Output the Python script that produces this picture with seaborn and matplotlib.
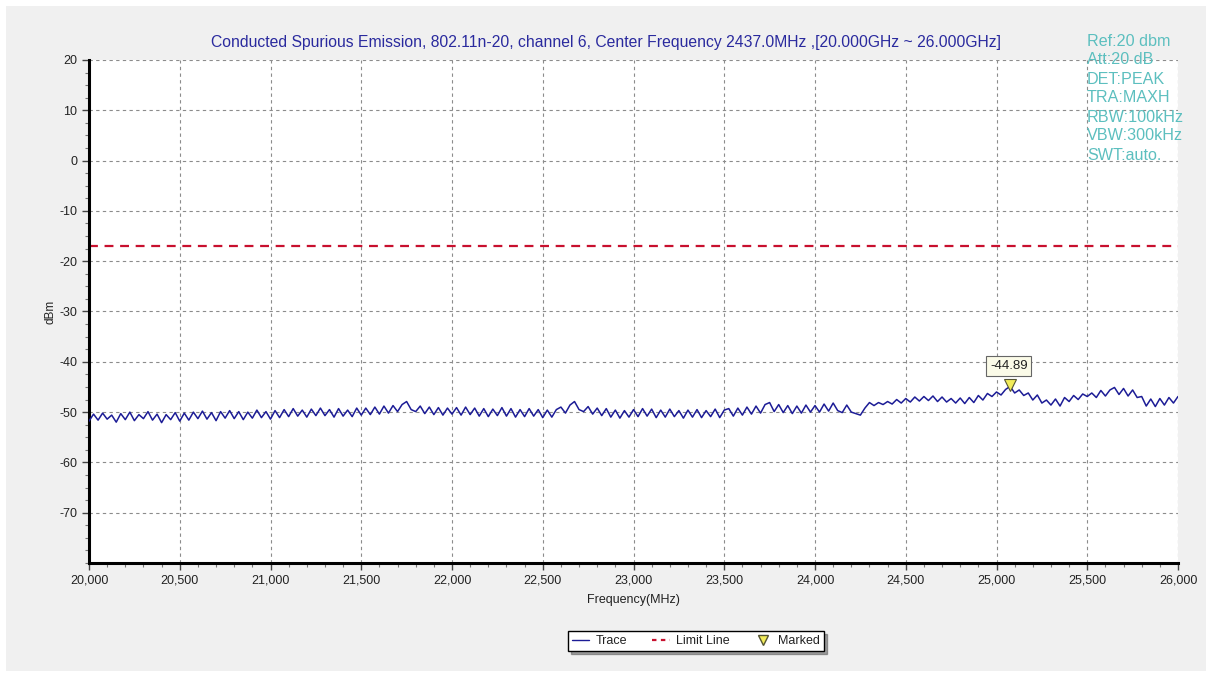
import matplotlib
matplotlib.use("Agg")
import matplotlib.pyplot as plt
import matplotlib.ticker as mticker
import matplotlib.transforms as mtransforms
from matplotlib.lines import Line2D
from matplotlib.patches import Rectangle
import numpy as np
import pandas as pd
import seaborn as sns

# ---- measurement data ----
f_start = 20000.0
f_stop = 26000.0
f_step = 25.0

trace_dbm = [
    # 20000 - 20500
    -51.8, -50.4, -51.6, -50.2, -51.4, -50.6, -52.0, -50.3, -51.5, -50.0, -51.7,
    -50.5, -51.3, -49.9, -51.6, -50.4, -52.1, -50.5, -51.5, -50.1, -51.8,
    # 20525 - 21000
    -50.2, -51.6, -50.0, -51.3, -49.8, -51.4, -50.1, -51.7, -49.9, -51.2,
    -49.7, -51.3, -49.9, -51.5, -50.0, -51.2, -49.6, -51.1, -49.9, -51.4,
    # 21025 - 21500
    -49.7, -51.1, -49.5, -50.9, -49.3, -50.8, -49.6, -51.0, -49.4, -50.7,
    -49.2, -50.7, -49.5, -51.0, -49.3, -50.8, -49.6, -50.9, -49.2, -50.6,
    # 21525 - 22000
    -49.2, -50.5, -49.0, -50.4, -48.8, -50.2, -48.7, -49.9, -48.5, -47.9,
    -49.5, -49.9, -48.8, -50.3, -49.0, -50.5, -49.1, -50.6, -49.2, -50.4,
    # 22025 - 22500
    -49.1, -50.6, -49.0, -50.5, -49.2, -50.8, -49.3, -50.9, -49.4, -50.7,
    -49.1, -50.8, -49.3, -51.0, -49.5, -50.9, -49.3, -50.8, -49.5, -51.1,
    # 22525 - 23000
    -49.6, -51.0, -49.5, -49.0, -50.2, -48.6, -47.9, -49.5, -49.9, -48.9,
    -50.4, -49.2, -50.7, -49.3, -51.0, -49.6, -51.2, -49.7, -51.0, -49.5,
    # 23025 - 23500
    -50.9, -49.3, -50.8, -49.4, -51.1, -49.6, -51.0, -49.4, -50.9, -49.7,
    -51.2, -49.6, -51.0, -49.5, -51.1, -49.7, -50.9, -49.4, -51.1, -49.6,
    # 23525 - 24000
    -49.3, -50.8, -49.2, -50.6, -49.0, -50.4, -48.8, -50.2, -48.5, -48.1,
    -49.9, -48.5, -50.1, -48.7, -50.3, -48.8, -50.2, -48.6, -50.0, -48.7,
    # 24025 - 24500
    -50.0, -48.4, -49.8, -48.2, -49.7, -50.1, -48.6, -50.0, -50.3, -50.6,
    -49.2, -48.1, -48.7, -48.1, -48.5, -47.9, -48.4, -47.5, -48.2, -47.3,
    # 24525 - 25000
    -48.0, -47.0, -47.8, -46.9, -47.7, -46.8, -47.9, -47.0, -48.0, -47.3,
    -48.2, -47.2, -48.3, -47.1, -48.1, -46.7, -47.6, -46.3, -46.9, -46.0,
    # 25025 - 25500
    -46.6, -45.5, -44.89, -46.2, -45.6, -46.7, -46.2, -47.6, -46.6, -48.2,
    -47.6, -48.6, -47.4, -48.8, -47.1, -47.9, -46.7, -47.5, -46.4, -46.9,
    # 25525 - 26000
    -46.2, -47.1, -45.7, -46.8, -45.6, -45.1, -46.5, -45.3, -46.8, -45.6,
    -47.1, -46.9, -48.8, -47.4, -48.9, -47.3, -48.6, -47.1, -48.2, -46.9,
]

limit_dbm = -17.0
marker_freq = 25075.0
marker_dbm = -44.89

title = ("Conducted Spurious Emission, 802.11n-20, channel 6, Center Frequency "
         "2437.0MHz ,[20.000GHz ~ 26.000GHz]")
settings = ["Ref:20 dbm", "Att:20 dB", "DET:PEAK", "TRA:MAXH",
            "RBW:100kHz", "VBW:300kHz", "SWT:auto."]
legend_labels = ["Trace", "Limit Line", "Marked"]

freq_mhz = f_start + f_step * np.arange(len(trace_dbm))
df = pd.DataFrame({"Frequency(MHz)": freq_mhz, "dBm": trace_dbm})

# ---- styling ----
sns.set_style("white")
plt.rcParams["font.family"] = ["Liberation Sans", "DejaVu Sans"]

trace_color = "#1c1c96"
limit_color = "#c8102e"
marker_face = "#f2ec5a"
info_color = "#5cbfbf"
panel_color = "#f0f0f0"

fig = plt.figure(figsize=(12.12, 6.77), dpi=100, facecolor="white")
fig.patches.append(Rectangle((6 / 1212, 6 / 677), 1200 / 1212, 665 / 677,
                             transform=fig.transFigure, facecolor=panel_color,
                             edgecolor="none", zorder=-10))

ax = fig.add_axes([89 / 1212, (677 - 563) / 677, 1089 / 1212, 503 / 677])
ax.set_facecolor("white")

sns.lineplot(data=df, x="Frequency(MHz)", y="dBm", ax=ax, color=trace_color,
             linewidth=1.1, estimator=None, zorder=3)
ax.axhline(limit_dbm, color=limit_color, linewidth=1.6,
           linestyle=(0, (4, 3)), zorder=2)

# marker triangle sitting on the peak
mk_trans = mtransforms.offset_copy(ax.transData, fig=fig, y=1, units="points")
ax.plot([marker_freq], [marker_dbm], marker="v", markersize=9,
        markerfacecolor=marker_face, markeredgecolor="#555533",
        markeredgewidth=0.8, linestyle="none", transform=mk_trans, zorder=5)
ax.annotate(f"{marker_dbm:.2f}", xy=(marker_freq, marker_dbm),
            xytext=(-1, 15), textcoords="offset points", ha="center",
            va="center", fontsize=9.5, color="#222222",
            bbox=dict(boxstyle="square,pad=0.3", facecolor="#fbfbe8",
                      edgecolor="#666666", linewidth=0.8), zorder=6)

ax.set_xlim(f_start, f_stop)
ax.set_ylim(-80, 20)
ax.set_xticks(np.arange(20000, 26001, 500))
ax.set_yticks(np.arange(-70, 21, 10))
ax.xaxis.set_minor_locator(mticker.MultipleLocator(100))
ax.yaxis.set_minor_locator(mticker.MultipleLocator(2.5))
ax.xaxis.set_major_formatter(mticker.FuncFormatter(lambda v, p: f"{v:,.0f}"))
ax.yaxis.set_major_formatter(mticker.FuncFormatter(lambda v, p: f"{v:.0f}"))

ax.grid(True, which="major", color="#8c8c8c", linestyle=(0, (3, 3)),
        linewidth=0.8)
for side in ("top", "right"):
    ax.spines[side].set_visible(False)
for side in ("left", "bottom"):
    ax.spines[side].set_color("black")
    ax.spines[side].set_linewidth(2.2)

ax.tick_params(axis="both", which="major", direction="out", length=5,
               width=1, color="#444444", labelsize=9, labelcolor="#222222",
               left=True, bottom=True)
ax.tick_params(axis="both", which="minor", direction="out", length=3,
               width=0.8, color="#777777", left=True, bottom=True)

ax.set_xlabel("Frequency(MHz)", fontsize=9, color="#222222", labelpad=5)
ax.set_ylabel("dBm", fontsize=8.5, color="#222222", labelpad=2)

fig.text(0.5, 1 - 42 / 677, title, ha="center", va="center", fontsize=11.3,
         color="#2a2a9e")

for i, s in enumerate(settings):
    fig.text(1087 / 1212, 1 - (41 + 19 * i) / 677, s, ha="left", va="center",
             fontsize=11.6, color=info_color)

handles = [
    Line2D([], [], color=trace_color, linewidth=1.0),
    Line2D([], [], color=limit_color, linewidth=1.6, linestyle=(0, (2, 2))),
    Line2D([], [], marker="v", markersize=7, markerfacecolor=marker_face,
           markeredgecolor="#555533", linestyle="none"),
]
leg = fig.legend(handles, legend_labels, loc="center",
                 bbox_to_anchor=(696 / 1212, 1 - 641 / 677), ncol=3,
                 fontsize=9, frameon=True, fancybox=False, shadow=True,
                 handlelength=1.4, handletextpad=0.5, columnspacing=2.0,
                 borderpad=0.3, labelcolor="#222222")
leg.get_frame().set_edgecolor("black")
leg.get_frame().set_linewidth(1.0)
leg.get_frame().set_facecolor("white")

fig.savefig("out.png", dpi=100, facecolor=fig.get_facecolor())
